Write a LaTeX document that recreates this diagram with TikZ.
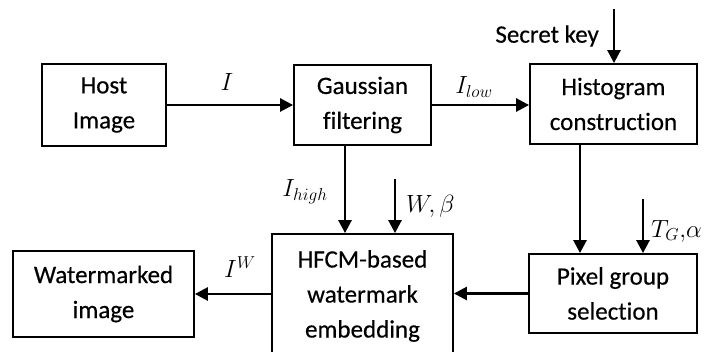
\documentclass[tikz,border=0pt]{standalone}
\usepackage{fontspec}
\setmainfont{Carlito}[Ligatures=NoCommon, FakeBold=0.4]
\usetikzlibrary{arrows.meta}
\DeclareMathSizes{25}{25}{19}{15}

\tikzset{
  blk/.style={draw, line width=1.8pt, align=center, inner sep=0pt,
    font=\fontsize{25}{35}\selectfont},
  arr/.style={line width=2.6pt, -{Triangle[length=13pt,width=13pt]}},
  lbl/.style={inner sep=0pt, font=\fontsize{25}{30}\selectfont},
}

\begin{document}
\begin{tikzpicture}[x=1pt,y=-1pt]
  \clip (0,0) rectangle (704,352);

  % processing blocks
  \node[blk, minimum width=124pt, minimum height=82pt] (host)  at (104,105)   {Host\\Image};
  \node[blk, minimum width=137pt, minimum height=80pt] (gauss) at (362.5,105) {Gaussian\\filtering};
  \node[blk, minimum width=167pt, minimum height=80pt] (hist)  at (613.5,104) {Histogram\\construction};
  \node[blk, minimum width=168pt, minimum height=79pt] (pixel) at (613,293.5) {Pixel group\\selection};
  \node[blk, minimum width=181pt, minimum height=124pt] (hfcm) at (362.5,296) {HFCM-based\\watermark\\embedding};
  \node[blk, minimum width=181pt, minimum height=86pt] (wm)    at (103.5,294) {Watermarked\\image};

  % free ends of the input arrows
  \coordinate (keytop) at (614,9);
  \coordinate (wtop)   at (395,179);
  \coordinate (ttop)   at (643,199);

  % signal flow
  \draw[arr] (host.east) -- (host.east -| gauss.west);
  \draw[arr] (gauss.east) -- (gauss.east -| hist.west);
  \draw[arr] (keytop) -- (keytop |- hist.north);
  \draw[arr] ([xshift=-33.5pt]hist.south) -- ([xshift=-33.5pt]hist.south |- pixel.north);
  \draw[arr] (ttop) -- (ttop |- pixel.north);
  \draw[arr] ([xshift=-17.5pt]gauss.south) -- ([xshift=-17.5pt]gauss.south |- hfcm.north);
  \draw[arr] (wtop) -- (wtop |- hfcm.north);
  \draw[arr] (pixel.west) -- (pixel.west -| hfcm.east);
  \draw[arr] (wm.east -| hfcm.west) -- (wm.east);

  % labels
  \node[lbl] (key)    [anchor=east] at (599,36) {Secret key};
  \node[lbl] (lI)     at (227,82)  {$I$};
  \node[lbl] (lIlow)  at (474,87)  {$I_{low}$};
  \node[lbl] (lIhigh) at (305,192) {$I_{high}$};
  \node[lbl] (lW)     [anchor=west] at (406,206) {$W,\beta$};
  \node[lbl] (lT)     [anchor=west] at (651,231) {$T_G{,}\alpha$};
  \node[lbl] (lIW)    at (240,267) {$I^W$};
\end{tikzpicture}
\end{document}
